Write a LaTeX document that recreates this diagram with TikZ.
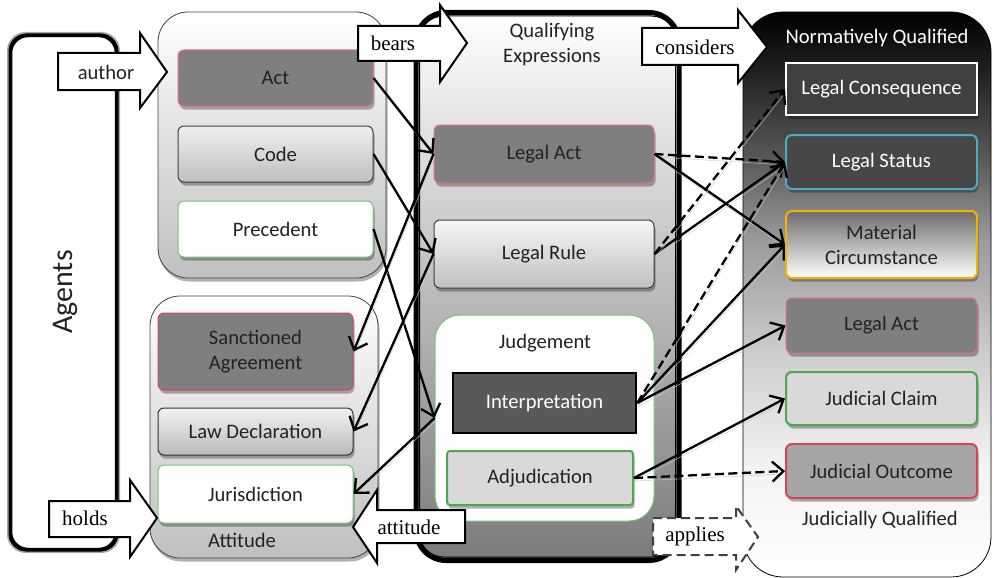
\documentclass[tikz,border=0pt]{standalone}
\usepackage{fontspec}
\setmainfont{Carlito}
\newfontfamily\lblserif{Liberation Serif}
\usetikzlibrary{arrows.meta,shadows,calc}
\definecolor{txt}{HTML}{222222}
\definecolor{redb}{HTML}{E0707E}
\definecolor{redd}{HTML}{D9435A}
\definecolor{greenb}{HTML}{77C47A}
\definecolor{greend}{HTML}{4EA64E}
\definecolor{blueb}{HTML}{4BACC6}
\definecolor{goldb}{HTML}{F2B300}
\definecolor{midgray}{HTML}{7F7F7F}
\pgfdeclareverticalshading{nqshade}{100bp}{color(0bp)=(white); color(25bp)=(white); color(35bp)=(black!5); color(45bp)=(black!20); color(55bp)=(black!40); color(62bp)=(black!65); color(70bp)=(black!88); color(75bp)=(black); color(100bp)=(black)}
\begin{document}
\begin{tikzpicture}[x=1pt,y=-1pt,
  every node/.style={font=\fontsize{20.6}{25}\selectfont, text=txt, align=center, inner sep=1pt},
  shad/.style={drop shadow={shadow xshift=1.5pt, shadow yshift=-3.5pt, opacity=0.3, fill=black}},
  container/.style={draw=black!75, line width=0.8pt, rounded corners=30pt, top color=white, bottom color=black!25, shad},
  box/.style={draw, rounded corners=6pt, line width=1pt, shad},
  wbox/.style={box, minimum width=195pt},
  mbox/.style={box, minimum width=220pt},
  rbox/.style={box, minimum width=191pt},
  conn/.style={line width=2.3pt, -{Straight Barb[length=11pt,width=20pt]},
    preaction={draw=black!22, -, transform canvas={xshift=1pt,yshift=-3pt}}},
  dconn/.style={conn, dash pattern=on 9pt off 4.5pt},
  blockarr/.style={draw=black, line width=2pt, fill=white, line join=miter},
  arrlbl/.style={font=\lblserif\fontsize{21}{25}\selectfont, text=black}
]
\useasboundingbox (0,0) rectangle (993,578);

% Agents
\node[draw=black, line width=4.5pt, rounded corners=18pt, fill=white, minimum width=107pt, minimum height=515pt] (agents) at (63.5,292.5) {};
\draw[gray!70, line width=1.5pt, rounded corners=18pt] (agents.north west) rectangle (agents.south east);
\node[rotate=90, font=\fontsize{30}{34}\selectfont] (agentslbl) at (65,292) {Agents};

% upper-left container
\node[container, minimum width=228pt, minimum height=266pt] (ul) at (272,145) {};
\node[wbox, fill=midgray, draw=redb, minimum height=56pt] (act) at (275.5,78) {Act};
\node[wbox, top color=black!6, bottom color=black!25, draw=black!75, minimum height=56pt] (code) at (275.5,154) {Code};
\node[wbox, fill=white, draw=greenb, minimum height=56pt] (prec) at (275.5,229) {Precedent};

% lower-left container
\node[container, minimum width=228pt, minimum height=262pt] (ll) at (264,427) {};
\node[wbox, fill=midgray, draw=redd, minimum height=77pt] (sanc) at (255.5,351.5) {Sanctioned\\Agreement};
\node[wbox, top color=black!5, bottom color=black!27, draw=black!80, minimum height=47pt] (lawdec) at (255.5,431.5) {Law Declaration};
\node[wbox, fill=white, draw=greenb, minimum height=58pt] (juris) at (255.5,494) {Jurisdiction};
\node (attlbl) at (242,540) {Attitude};

% middle container
\node[draw=black, line width=5pt, rounded corners=30pt, top color=white, bottom color=black!52, minimum width=263pt, minimum height=548pt] (qe) at (547.5,286.5) {};
\draw[line width=1pt, rounded corners=24pt] ($(qe.north west)+(6,6)$) rectangle ($(qe.south east)+(-6,-6)$);
\node (qelbl) at (552,45) {Qualifying\\Expressions};
\node[mbox, fill=midgray, draw=redb, minimum height=58pt] (lact) at (544,154) {Legal Act};
\node[mbox, top color=black!3, bottom color=black!25, draw=black!75, minimum height=68pt] (lrule) at (544,254) {Legal Rule};
\node[draw=greenb, line width=1pt, fill=white, rounded corners=25pt, minimum width=219pt, minimum height=206pt] (jdg) at (544.5,418) {};
\node (jdglbl) at (545,343) {Judgement};
\node[draw=black, line width=2.5pt, fill=black!65, text=white!92, minimum width=183pt, minimum height=60pt, drop shadow={shadow xshift=-1.5pt, shadow yshift=1.5pt, opacity=0.8, fill=blueb}] (interp) at (544.5,403) {Interpretation};
\node[box, fill=black!15, draw=greend, line width=2pt, rounded corners=3pt, minimum width=186pt, minimum height=54pt] (adj) at (540,478) {Adjudication};

% right container
\node[draw=black, line width=0.8pt, rounded corners=40pt, shading=nqshade, minimum width=248pt, minimum height=565pt] (nq) at (867,294.5) {};
\node[text=white!94] (nqlbl) at (877,38) {Normatively Qualified};
\node[rbox, fill=black!75, draw=white, line width=2pt, rounded corners=0pt, text=white, minimum height=52pt] (lcons) at (881.5,89) {Legal Consequence};
\node[rbox, fill=black!72, draw=blueb, line width=2pt, text=white!88, minimum height=54pt] (lstat) at (881.5,162) {Legal Status};
\node[rbox, top color=black!58, bottom color=white, draw=goldb, line width=2pt, minimum height=67pt] (matc) at (881.5,244.5) {Material\\Circumstance};
\node[rbox, fill=midgray, draw=redb, minimum height=55pt] (ract) at (881.5,325.5) {Legal Act};
\node[rbox, fill=black!15, draw=greend, line width=2pt, minimum height=53pt] (jclaim) at (881.5,398.5) {Judicial Claim};
\node[rbox, fill=black!35, draw=redd, line width=2pt, minimum height=54pt] (jout) at (881.5,471) {Judicial Outcome};
\node (jqlbl) at (880,520) {Judicially Qualified};

% connectors
\draw[conn] (act.east) -- (lact.west);
\draw[conn] (code.east) -- (lrule.west);
\draw[conn] (prec.east) -- (jdg.west);
\draw[conn] (lact.west) -- (sanc.east);
\draw[conn] (lrule.west) -- (lawdec.east);
\draw[conn] (jdg.west) -- (juris.east);
\draw[dconn] (lact.east) -- (lstat.west);
\draw[conn] (lact.east) -- (matc.west);
\draw[conn] (lrule.east) -- (lstat.west);
\draw[dconn] (lrule.east) -- (lcons.west);
\draw[dconn] (interp.east) -- (lstat.west);
\draw[conn] (interp.east) -- (matc.west);
\draw[conn] (interp.east) -- (ract.west);
\draw[conn] (adj.east) -- (jclaim.west);
\draw[dconn] (adj.east) -- (jout.west);

% block arrows
\draw[blockarr] (58,53) -- (140,53) -- (140,33) -- (167,72) -- (140,108) -- (140,90) -- (58,90) -- cycle;
\node (authorlbl) at (106,72) {author};
\draw[blockarr] (358,26) -- (440,26) -- (440,5) -- (467,43) -- (440,82) -- (440,61) -- (358,61) -- cycle;
\node[arrlbl] (bearslbl) at (393,43) {bears};
\draw[blockarr] (642,28) -- (738,28) -- (738,10) -- (767,47) -- (738,83) -- (738,65) -- (642,65) -- cycle;
\node[arrlbl] (conslbl) at (695,47) {considers};
\draw[blockarr] (49,501) -- (130,501) -- (130,480) -- (157,518) -- (130,557) -- (130,537) -- (49,537) -- cycle;
\node[arrlbl] (holdslbl) at (85,518) {holds};
\draw[blockarr] (465,510) -- (377,510) -- (377,490) -- (353,527) -- (377,563) -- (377,543) -- (465,543) -- cycle;
\node[arrlbl] (attitudelbl) at (409,527) {attitude};
\draw[blockarr, draw=black!75, dash pattern=on 9pt off 5pt] (653,518) -- (736,518) -- (736,506) -- (758,537) -- (736,570) -- (736,555) -- (653,555) -- cycle;
\node[arrlbl] (applieslbl) at (695,536) {applies};
\end{tikzpicture}
\end{document}
